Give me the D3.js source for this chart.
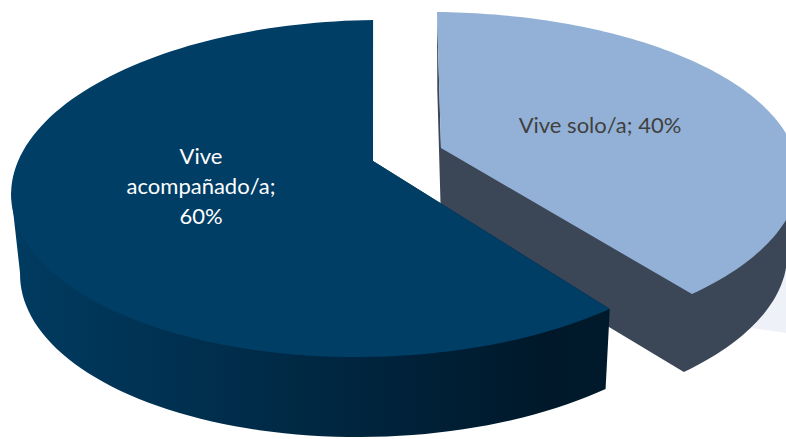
<!DOCTYPE html>
<html>
<head>
<meta charset="utf-8">
<script src="https://cdn.jsdelivr.net/npm/d3@7"></script>
<style>
  html, body { margin: 0; padding: 0; background: #fff; }
  svg { display: block; }
  text { font-family: Lato, "Open Sans", sans-serif; font-size: 22px; text-anchor: middle; }
</style>
</head>
<body>
<div id="chart"></div>
<script>
var categories = ["Vive solo/a", "Vive acompañado/a"];
var values = [40, 60];
var labelLines = [["Vive solo/a; 40%"], ["Vive", "acompañado/a;", "60%"]];

var width = 786, height = 439;

// each slice sits on its own plane, the picture has perspective so no plain ellipse here
var sliceStyle = [
  {
    h: { a: 392.5, b: -77.2, c: 441, d: 4.6, e: 133.8, f: 148, g: 0.0524, i: -0.1858 },
    depth: 78, shrink: 0.967, vanishX: 446,
    top: "#93b1d6", wall: "#3b4656", text: "#404040",
    labelX: 600, labelY: 133
  },
  {
    h: { a: 357.2, b: -60.9, c: 373, d: -3.4, e: 137.7, f: 161, g: 0.012, i: -0.163 },
    depth: 80, shrink: 0.978, vanishX: 418,
    top: "#003e66", wall: "url(#darkWall)", text: "#ffffff",
    labelX: 201, labelY: 164
  }
];

var svg = d3.select("#chart").append("svg")
  .attr("width", width)
  .attr("height", height)
  .attr("viewBox", "0 0 " + width + " " + height);

var grad = svg.append("defs").append("linearGradient")
  .attr("id", "darkWall")
  .attr("gradientUnits", "userSpaceOnUse")
  .attr("x1", 12).attr("x2", 606).attr("y1", 0).attr("y2", 0);
grad.append("stop").attr("offset", "0").attr("stop-color", "#013b61");
grad.append("stop").attr("offset", "0.45").attr("stop-color", "#002a46");
grad.append("stop").attr("offset", "0.9").attr("stop-color", "#00182a");
grad.append("stop").attr("offset", "1").attr("stop-color", "#001a2c");

var pie = d3.pie().sort(null).value(function(d) { return d; });
var arcs = pie(values);

var line = d3.line();

function project(s, u, v) {
  var h = s.h;
  var w = 1 + h.g * u + h.i * v;
  return [(h.a * u + h.b * v + h.c) / w, (h.d * u + h.e * v + h.f) / w];
}

function rimPoint(s, angle) {
  return project(s, Math.sin(angle), -Math.cos(angle));
}

function lower(s, p) {
  return [s.vanishX + (p[0] - s.vanishX) * s.shrink, p[1] + s.depth];
}

function rim(s, arc) {
  return d3.range(0, 121).map(function(i) {
    return rimPoint(s, arc.startAngle + (arc.endAngle - arc.startAngle) * i / 120);
  });
}

// pale shadow behind the light slice
svg.append("path")
  .attr("d", line([[752, 328], [786, 333], [786, 270], [752, 270]]) + "Z")
  .attr("fill", "#eef2f8");

// light slice first, dark one goes over it
[0, 1].forEach(function(k) {
  var s = sliceStyle[k];
  var edge = rim(s, arcs[k]);
  var centre = project(s, 0, 0);
  var first = edge[0], last = edge[edge.length - 1];
  var g = svg.append("g").attr("class", "slice");
  var body;

  if (k == 0) {
    // light slice shows both cut faces, wall runs from the right extreme to the cut
    var right = d3.greatestIndex(edge, function(p) { return p[0]; });
    var lowerEdge = edge.slice(right).map(function(p) { return lower(s, p); }).reverse();
    body = [first, lower(s, first), lower(s, centre)]
      .concat(lowerEdge, [edge[right], centre]);
  } else {
    // dark slice only shows the outer wall, up to the left extreme
    var left = d3.leastIndex(edge, function(p) { return p[0]; });
    var lowerDark = edge.slice(0, left + 1).map(function(p) { return lower(s, p); });
    body = [first].concat(lowerDark, [edge[left], centre]);
  }

  // one outline for the whole body so no seams show between the faces
  g.append("path")
    .attr("d", line(body) + "Z")
    .attr("fill", s.wall);

  g.append("path")
    .attr("d", line([centre].concat(edge)) + "Z")
    .attr("fill", s.top);

  labelLines[k].forEach(function(txt, j) {
    g.append("text")
      .attr("x", s.labelX)
      .attr("y", s.labelY + j * 30)
      .attr("fill", s.text)
      .text(txt);
  });
});
</script>
</body>
</html>
